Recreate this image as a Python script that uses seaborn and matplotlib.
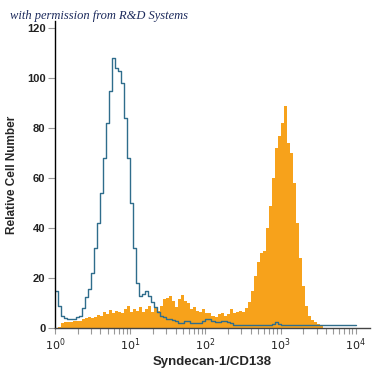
import numpy as np
import pandas as pd
import matplotlib
matplotlib.use("Agg")
import matplotlib.pyplot as plt
import seaborn as sns

# histogram bins: 100 channels spread evenly over 4 decades (log10 units)
bin_edges_log = np.linspace(0, 4, 101).tolist()

# isotype control (blue outline), one value per channel
control_counts = [
    15, 9, 5, 4, 3.5, 3.5, 3.8, 4.5, 5, 8,
    12.5, 15.5, 22, 32, 42, 54, 68, 82, 95, 108,
    104, 103, 98, 84, 68, 50, 32, 18, 13, 13.5,
    15, 13, 10.5, 8.5, 6.5, 5, 4.5, 3.5, 3.5, 3.2,
    2.8, 2.2, 2.2, 2.8, 2.9, 2.2, 2, 2, 2.2, 2.9,
    3.5, 3.5, 3, 2.4, 2.5, 2.9, 2.9, 2.5, 2.1, 1.1,
    1.1, 1.1, 1.1, 1.1, 1.1, 1.1, 1.1, 1.1, 1.1, 1.1,
    1.1, 1.1, 1.5, 2.5, 1.5, 1.1, 1.1, 1.1, 1.1, 1.1,
    1.1, 1.1, 1.1, 1.1, 1.1, 1.1, 1.1, 1.1, 1.1, 1.1,
    1.1, 1.1, 1.1, 1.1, 1.1, 1.1, 1.1, 1.1, 1.1, 1.1,
]

# Syndecan-1/CD138 stained cells (orange fill)
stained_counts = [
    0, 0.5, 1.9, 2.3, 2.5, 2.5, 2.7, 2.7, 3, 3.8,
    4, 4.3, 4, 4.6, 5.2, 4.8, 6.5, 5.5, 7.2, 6,
    7, 6.5, 6, 7.5, 9, 6.5, 7.5, 6.8, 8.5, 6.5,
    7.5, 8.8, 6.5, 8, 7, 9, 11.5, 12, 12.8, 11,
    8.5, 11.5, 13.2, 11, 10, 7.5, 8.5, 7, 6.5, 7.5,
    6, 6, 4.8, 4.5, 5.5, 6, 5, 5.5, 7.5, 6,
    6.5, 7, 6.5, 8, 10.5, 15, 21, 26.5, 30, 31,
    40, 49, 60, 72, 77, 82, 89, 74, 70, 58,
    42, 28, 17, 9, 5, 3.2, 2.4, 1.8, 0.8, 0,
    0, 0, 0, 0, 0, 0, 0, 0, 0, 0,
]

y_ticks = [0, 20, 40, 60, 80, 100, 120]
x_ticks = [1, 10, 100, 1000, 10000]
x_tick_labels = ["$10^{0}$", "$10^{1}$", "$10^{2}$", "$10^{3}$", "$10^{4}$"]

edges = np.array(bin_edges_log)
centers = 10 ** ((edges[:-1] + edges[1:]) / 2)
df = pd.DataFrame({"signal": centers,
                   "control": control_counts,
                   "stained": stained_counts})

sns.set_style("ticks")
plt.rcParams["font.family"] = ["Liberation Sans", "DejaVu Sans"]

fig = plt.figure(figsize=(3.75, 3.75), dpi=100)
ax = fig.add_axes([0.147, 0.125, 0.84, 0.82])

sns.histplot(data=df, x="signal", weights="stained", bins=bin_edges_log,
             log_scale=True, element="step", fill=True, color="#f7a21b",
             alpha=1, linewidth=0, ax=ax)
sns.histplot(data=df, x="signal", weights="control", bins=bin_edges_log,
             log_scale=True, element="step", fill=False, color="#2f6d8c",
             linewidth=1.0, ax=ax)

ax.set_xlim(1, 10 ** 4.19)
ax.set_ylim(0, 123)
sns.despine(ax=ax)
ax.spines["left"].set_color("black")
ax.spines["bottom"].set_color("#444444")
ax.spines["left"].set_linewidth(1.0)
ax.spines["bottom"].set_linewidth(1.0)

ax.set_yticks(y_ticks)
ax.set_yticklabels([str(v) for v in y_ticks], fontsize=8, fontweight="bold",
                   color="#222222")
ax.tick_params(axis="y", length=5, width=0.8, color="#999999", pad=2)

ax.set_xticks(x_ticks)
ax.set_xticklabels(x_tick_labels, fontsize=8, color="#222222")
ax.xaxis.set_minor_locator(matplotlib.ticker.LogLocator(base=10, subs=np.arange(2, 10)))
ax.xaxis.set_minor_formatter(matplotlib.ticker.NullFormatter())
ax.tick_params(axis="x", which="both", length=4.5, width=0.8, color="#999999",
               pad=1.5, direction="out")

ax.set_xlabel("Syndecan-1/CD138", fontsize=9.5, fontweight="bold",
              family=["Liberation Sans Narrow", "Liberation Sans", "DejaVu Sans"],
              labelpad=2)
ax.set_ylabel("Relative Cell Number", fontsize=8.5, fontweight="bold", labelpad=6)

fig.text(0.027, 0.958, "with permission from R&D Systems", fontsize=9,
         style="italic", color="#1c2a5c", va="center",
         family=["Liberation Serif", "DejaVu Serif"])

fig.savefig("out.png", dpi=100)
